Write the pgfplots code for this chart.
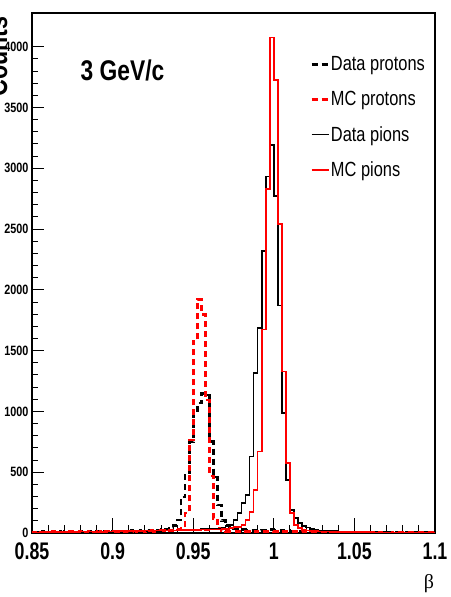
\documentclass[border=0pt]{standalone}
\usepackage{fontspec}
\usepackage{pgfplots}
\usepackage{pgfplotstable}
\pgfplotsset{compat=1.18}
\setmainfont{Liberation Sans}
\newfontfamily\rootfont[FakeStretch=0.8]{Liberation Sans}
\newfontfamily\tickfont[FakeStretch=0.74]{Liberation Sans}
\newfontfamily\greekfont{Liberation Serif}

\pgfplotstableread{
x dp mp dpi mpi
0.8500 8 6 4 7
0.8525 5 9 6 4
0.8550 10 5 3 8
0.8575 6 8 5 5
0.8600 9 6 7 9
0.8625 7 10 4 6
0.8650 11 7 6 8
0.8675 6 9 5 6
0.8700 10 6 7 10
0.8725 8 11 5 7
0.8750 12 7 8 9
0.8775 7 10 6 8
0.8800 11 8 9 11
0.8825 9 12 7 8
0.8850 13 8 10 12
0.8875 8 11 8 9
0.8900 12 9 11 13
0.8925 10 13 9 10
0.8950 15 9 12 14
0.8975 9 12 10 11
0.9000 14 10 13 15
0.9025 11 14 11 12
0.9050 16 11 14 16
0.9075 12 15 12 13
0.9100 18 12 15 17
0.9125 13 16 13 15
0.9150 20 13 16 18
0.9175 16 17 15 16
0.9200 22 14 18 20
0.9225 18 18 17 18
0.9250 25 15 19 21
0.9275 22 19 18 19
0.9300 30 17 21 23
0.9325 34 20 20 21
0.9350 48 18 23 24
0.9375 62 22 22 22
0.9400 107 28 25 25
0.9425 296 38 24 23
0.9450 500 165 27 26
0.9475 748 765 26 24
0.9500 1010 1580 29 27
0.9525 1070 1922 30 26
0.9550 1150 1800 32 28
0.9575 1135 1094 31 27
0.9600 750 470 34 29
0.9625 460 120 36 28
0.9650 230 40 38 30
0.9675 100 20 41 32
0.9700 60 14 52 35
0.9725 42 12 66 40
0.9750 33 11 107 48
0.9775 28 10 165 50
0.9800 26 12 247 66
0.9825 24 13 313 107
0.9850 22 11 630 175
0.9875 24 14 1318 354
0.9900 22 12 1684 669
0.9925 25 13 2319 1675
0.9950 23 15 2932 2827
0.9975 26 14 3191 4077
1.0000 24 13 2774 3726
1.0025 22 15 1870 2541
1.0050 20 12 985 1327
1.0075 18 13 436 575
1.0100 16 11 189 164
1.0125 15 12 123 66
1.0150 14 10 80 40
1.0175 13 11 60 30
1.0200 12 9 45 22
1.0225 11 10 35 18
1.0250 12 8 28 15
1.0275 10 9 22 13
1.0300 11 8 19 12
1.0325 9 7 17 11
1.0350 10 8 16 10
1.0375 8 7 14 9
1.0400 9 6 13 10
1.0425 7 7 12 8
1.0450 8 6 11 9
1.0475 6 5 11 7
1.0500 7 6 10 8
1.0525 6 5 9 7
1.0550 7 6 9 6
1.0575 5 5 8 7
1.0600 6 4 8 6
1.0625 5 5 7 5
1.0650 6 4 7 6
1.0675 4 5 6 5
1.0700 5 4 6 4
1.0725 4 3 5 5
1.0750 5 4 5 4
1.0775 3 3 5 4
1.0800 4 4 4 3
1.0825 3 3 4 4
1.0850 4 3 4 3
1.0875 3 2 3 3
1.0900 3 3 3 2
1.0925 2 2 3 3
1.0950 3 2 2 2
1.0975 2 2 2 2
1.1000 2 2 2 2
}\histdata

\begin{document}
\begin{tikzpicture}
\begin{axis}[
  at={(0pt,0pt)}, anchor=south west,
  scale only axis, width=403pt, height=520pt,
  xmin=0.85, xmax=1.1, ymin=0, ymax=4277,
  xtick={0.85,0.9,0.95,1,1.05,1.1},
  ytick={0,500,1000,1500,2000,2500,3000,3500,4000},
  minor x tick num=4, minor y tick num=4,
  xtick pos=left, ytick pos=left,
  tick align=inside,
  major tick length=12pt, minor tick length=6pt,
  xtick style={/pgfplots/major tick length=15pt,/pgfplots/minor tick length=7.5pt},
  tick style={black, line width=0.9pt},
  axis line style={line width=1.2pt},
  scaled ticks=false,
  /pgf/number format/assume math mode=true,
  /pgf/number format/1000 sep={},
  xticklabel style={font=\tickfont\bfseries\fontsize{24}{24}\selectfont, yshift=-6pt},
  yticklabel style={font=\rootfont\bfseries\fontsize{13.5}{13.5}\selectfont},
  legend style={at={(0.69,0.918)}, anchor=north west, draw=none, fill=none,
    font=\rootfont\fontsize{20.5}{20.5}\selectfont, row sep=17pt, inner sep=0pt,
    nodes={inner sep=1pt}},
  legend cell align=left,
  legend image code/.code={\draw[#1] (0pt,0pt) -- (17pt,0pt);},
]
\addplot[const plot, black, line width=2.7pt, dash pattern=on 6pt off 4pt] table[x=x, y=dp] {\histdata};
\addlegendentry{Data protons}
\addplot[const plot, red, line width=2.7pt, dash pattern=on 6pt off 4pt] table[x=x, y=mp] {\histdata};
\addlegendentry{MC protons}
\addplot[const plot, black, line width=1.6pt] table[x=x, y=dpi] {\histdata};
\addlegendentry{Data pions}
\addplot[const plot, red, line width=1.6pt] table[x=x, y=mpi] {\histdata};
\addlegendentry{MC pions}
\node[anchor=base west, font=\rootfont\bfseries\fontsize{28.5}{28.5}\selectfont] at (rel axis cs:0.112,0.871) {3 GeV/c};
\end{axis}
\node[rotate=90, anchor=base east, font=\rootfont\bfseries\fontsize{29}{29}\selectfont] at (-25pt,520pt) {Counts};
\node[font=\greekfont\fontsize{20}{20}\selectfont] at (397pt,-51pt) {β};
\pgfresetboundingbox
\path (-32pt,-64pt) rectangle (418pt,533pt);
\end{tikzpicture}
\end{document}
